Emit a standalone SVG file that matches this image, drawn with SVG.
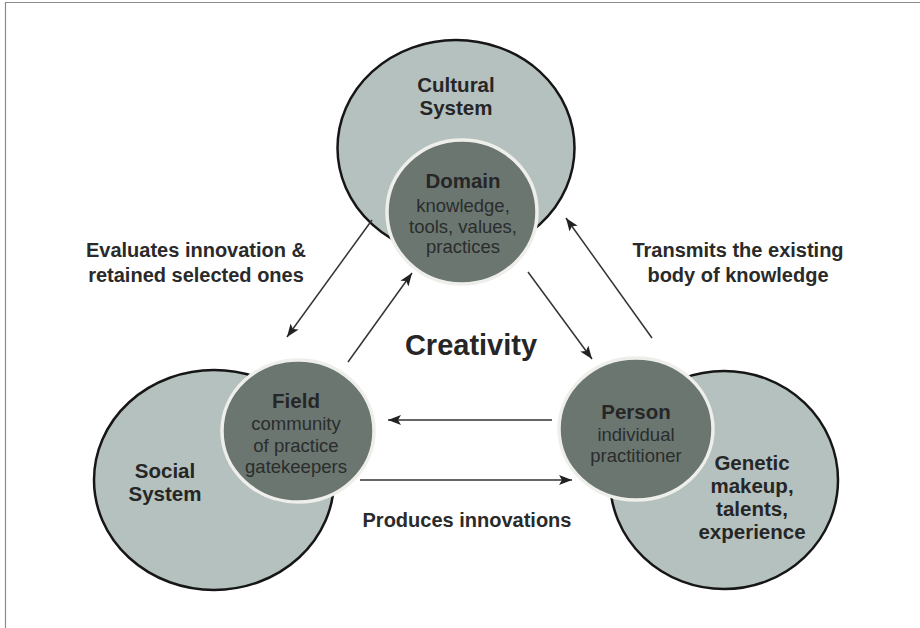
<svg xmlns="http://www.w3.org/2000/svg" width="920" height="628" viewBox="0 0 920 628">
<style>
.big{fill:#b5c1be;stroke:#161616;stroke-width:2.5}
.small{fill:#6b7671;stroke:#eeefea;stroke-width:3.5}
.lbl{font-family:"Liberation Sans",Arial,sans-serif;font-weight:bold;font-size:20.5px;fill:#262626;text-anchor:middle}
.desc{font-family:"Liberation Sans",Arial,sans-serif;font-size:18.5px;fill:#2a2d2b;text-anchor:middle}
.edge{font-family:"Liberation Sans",Arial,sans-serif;font-weight:bold;font-size:20px;fill:#2a2a2a;text-anchor:middle}
.conn{stroke:#333;stroke-width:1.5;fill:none;marker-end:url(#ah)}
</style>
<defs>
<marker id="ah" markerUnits="userSpaceOnUse" markerWidth="14" markerHeight="10" refX="13" refY="5" orient="auto">
<path d="M0,0 L13,5 L0,10 L3,5 z" fill="#222"/>
</marker>
</defs>
<rect width="920" height="628" fill="#fff"/>
<path d="M5.5,628 V2.5 H920" fill="none" stroke="#8c8c8c" stroke-width="1.2"/>
<g id="cultural-system">
<ellipse class="big" cx="456" cy="148" rx="118.5" ry="108"/>
<text class="lbl" x="456" y="92">Cultural</text>
<text class="lbl" x="456" y="115">System</text>
</g>
<g id="social-system">
<ellipse class="big" cx="214" cy="480" rx="120" ry="110"/>
<text class="lbl" x="165" y="478">Social</text>
<text class="lbl" x="165" y="501">System</text>
</g>
<g id="genetic">
<ellipse class="big" cx="724" cy="480" rx="114" ry="109"/>
<text class="lbl" x="752" y="470">Genetic</text>
<text class="lbl" x="752" y="493">makeup,</text>
<text class="lbl" x="752" y="516">talents,</text>
<text class="lbl" x="752" y="539">experience</text>
</g>
<g id="domain">
<ellipse class="small" cx="462" cy="212" rx="75" ry="72"/>
<text class="lbl" x="463" y="188">Domain</text>
<text class="desc" x="463" y="212">knowledge,</text>
<text class="desc" x="463" y="233">tools, values,</text>
<text class="desc" x="463" y="253">practices</text>
</g>
<g id="field">
<ellipse class="small" cx="298" cy="431" rx="76" ry="71"/>
<text class="lbl" x="296" y="408">Field</text>
<text class="desc" x="296" y="430">community</text>
<text class="desc" x="296" y="452">of practice</text>
<text class="desc" x="296" y="473">gatekeepers</text>
</g>
<g id="person">
<ellipse class="small" cx="636" cy="429" rx="77" ry="71"/>
<text class="lbl" x="636" y="419">Person</text>
<text class="desc" x="636" y="441">individual</text>
<text class="desc" x="636" y="462">practitioner</text>
</g>
<g id="connectors">
<line class="conn" x1="372" y1="220" x2="287" y2="337"/>
<line class="conn" x1="348" y1="362" x2="412" y2="273"/>
<line class="conn" x1="528" y1="272" x2="592" y2="359"/>
<line class="conn" x1="652" y1="338" x2="566" y2="218"/>
<line class="conn" x1="552" y1="420" x2="388" y2="420"/>
<line class="conn" x1="360" y1="480" x2="572" y2="480"/>
</g>
<g id="labels">
<text class="edge" x="196" y="257">Evaluates innovation &amp;</text>
<text class="edge" x="196" y="282">retained selected ones</text>
<text class="edge" x="738" y="257">Transmits the existing</text>
<text class="edge" x="738" y="282">body of knowledge</text>
<text class="edge" x="467" y="527">Produces innovations</text>
<text x="471" y="355" font-family="'Liberation Sans',Arial,sans-serif" font-weight="bold" font-size="29" fill="#262626" text-anchor="middle">Creativity</text>
</g>
</svg>
